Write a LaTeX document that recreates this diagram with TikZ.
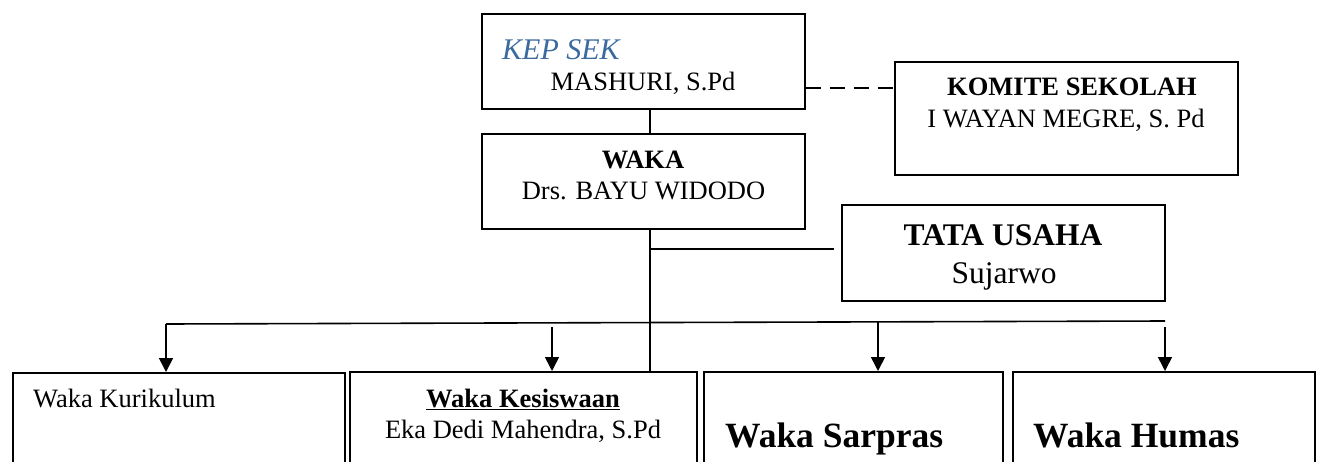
\documentclass[tikz,border=0pt]{standalone}
\usepackage{fontspec}
\setmainfont{Liberation Serif}
\usetikzlibrary{arrows.meta}
\definecolor{headblue}{HTML}{3B6A9F}
\tikzset{
  box/.style={draw, line width=1.6pt, inner sep=0pt, anchor=north west},
  txt/.style={inner sep=0pt, anchor=base, font=\fontsize{26.5}{30}\selectfont},
  conn/.style={line width=1.6pt},
  arr/.style={line width=1.6pt, -{Triangle[width=14pt,length=14pt]}}
}
\begin{document}
\begin{tikzpicture}[x=1pt,y=-1pt]
\useasboundingbox (0,0) rectangle (1323,461);
\clip (0,0) rectangle (1323,461);
% boxes
\node[box, minimum width=323pt, minimum height=95pt] (kep) at (481,13) {};
\node[box, minimum width=323pt, minimum height=95pt] (waka) at (481,133) {};
\node[box, minimum width=343pt, minimum height=113pt] (kom) at (894,61) {};
\node[box, minimum width=323pt, minimum height=96pt] (tu) at (841,204) {};
\node[box, minimum width=332pt, minimum height=120pt] (kur) at (12,372) {};
\node[box, minimum width=347pt, minimum height=120pt] (kes) at (349,371) {};
\node[box, minimum width=299pt, minimum height=120pt] (sar) at (703,371) {};
\node[box, minimum width=302pt, minimum height=120pt] (hum) at (1012,371) {};
% texts
\node[txt, anchor=base west, font=\fontsize{30}{34}\selectfont\itshape, text=headblue] (kept) at (502,59) {KEP SEK};
\node[txt] (kepn) at (643,90) {MASHURI, S.Pd};
\node[txt, font=\fontsize{26.5}{30}\selectfont\bfseries] (wakat) at (643,168) {WAKA};
\node[txt] (wakan) at (643.5,199) {Drs. BAYU WIDODO};
\node[txt, font=\fontsize{26.5}{30}\selectfont\bfseries] (komt) at (1072,95) {KOMITE SEKOLAH};
\node[txt] (komn) at (1066,127) {I WAYAN MEGRE, S. Pd};
\node[txt, font=\fontsize{31.5}{36}\selectfont\bfseries] (tut) at (1003,245) {TATA USAHA};
\node[txt, font=\fontsize{31.5}{36}\selectfont] (tun) at (1004,283) {Sujarwo};
\node[txt, anchor=base west] (kurt) at (33,407) {Waka Kurikulum};
\node[txt, font=\fontsize{26.5}{30}\selectfont\bfseries] (kest) at (523,407) {\underline{Waka Kesiswaan}};
\node[txt] (kesn) at (523,438) {Eka Dedi Mahendra, S.Pd};
\node[txt, anchor=base west, font=\fontsize{35.5}{40}\selectfont\bfseries] (sart) at (725,447) {Waka Sarpras};
\node[txt, anchor=base west, font=\fontsize{35.5}{40}\selectfont\bfseries] (humt) at (1033,447) {Waka Humas};
% coordinates
\coordinate (dashend) at (894,88);
\coordinate (tuend) at (834,249);
\coordinate (hl) at (166,324);
\coordinate (hr) at (1165,321);
\coordinate (kesstart) at (552,327);
\coordinate (sarstart) at (878,322);
\coordinate (humstart) at (1165,327);
% connectors
\draw[conn] (kep.south -| 650,0) -- (waka.north -| 650,0);
\draw[conn, dash pattern=on 15pt off 9pt] (kep.east |- dashend) -- (dashend);
\draw[conn] (waka.south -| 650,0) -- (kes.north -| 650,0);
\draw[conn] (650,249) -- (tuend);
\draw[conn] (hl) -- (hr);
\draw[arr] (hl) -- (hl |- kur.north);
\draw[arr] (kesstart) -- (kesstart |- kes.north);
\draw[arr] (sarstart) -- (sarstart |- sar.north);
\draw[arr] (humstart) -- (humstart |- hum.north);
\end{tikzpicture}
\end{document}
